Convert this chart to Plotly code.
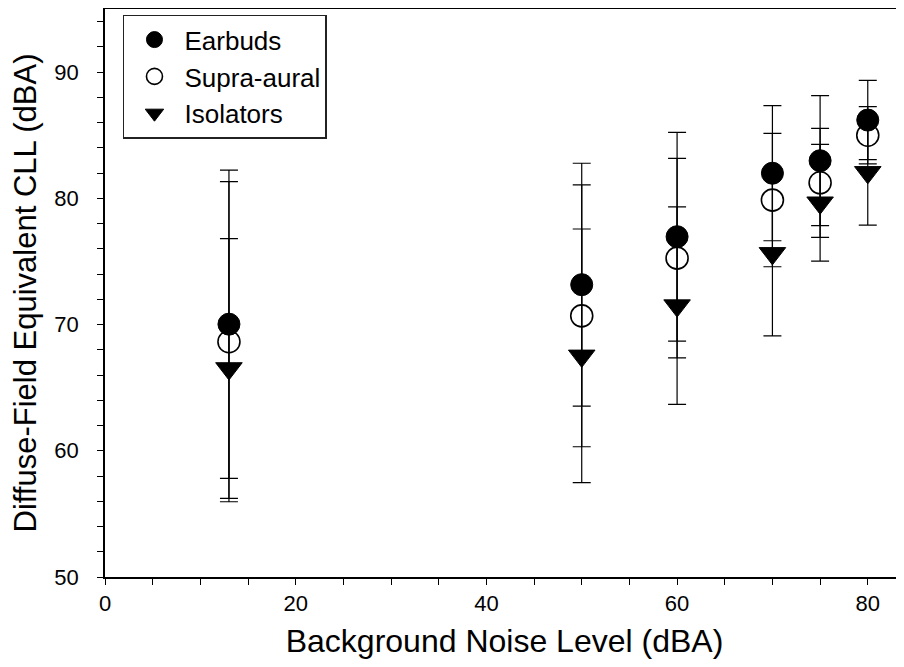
import plotly.graph_objects as go

noise_level = [13, 50, 60, 70, 75, 80]

earbuds_mean = [70.03, 73.16, 76.96, 81.99, 82.98, 86.2]
earbuds_sd = [12.21, 9.62, 8.27, 5.35, 5.15, 3.14]

supra_mean = [68.64, 70.69, 75.26, 79.86, 81.23, 85.0]
supra_sd = [12.68, 10.37, 7.9, 5.28, 4.32, 2.27]

isolators_mean = [66.52, 67.52, 71.5, 75.64, 79.65, 82.06]
isolators_sd = [10.29, 10.05, 7.83, 6.54, 4.62, 4.18]

series_names = ["Earbuds", "Supra-aural", "Isolators"]

FONT = "Liberation Sans, Arial, sans-serif"

err_style = dict(type="data", visible=True, color="black", thickness=1.2, width=9)

fig = go.Figure()
fig.add_trace(go.Scatter(
    x=noise_level, y=earbuds_mean, mode="markers", name=series_names[0],
    error_y=dict(array=earbuds_sd, **err_style),
    marker=dict(symbol="circle", size=22, color="black", line=dict(color="black", width=1)),
))
fig.add_trace(go.Scatter(
    x=noise_level, y=supra_mean, mode="markers", name=series_names[1],
    error_y=dict(array=supra_sd, **err_style),
    marker=dict(symbol="circle-open", size=22, color="black", line=dict(color="black", width=1.6)),
))
fig.add_trace(go.Scatter(
    x=noise_level, y=isolators_mean, mode="markers", name=series_names[2],
    error_y=dict(array=isolators_sd, **err_style),
    marker=dict(symbol="triangle-down", size=23, color="black", line=dict(color="black", width=1)),
))

# The page body adds an 8px margin, so the figure is 896x651 to fill the 904x667 window.
fig.update_layout(
    width=896, height=651,
    margin=dict(l=97, r=0, t=1, b=82, autoexpand=False),
    paper_bgcolor="white", plot_bgcolor="white",
    font=dict(family=FONT, color="black", size=22),
    showlegend=True,
    legend=dict(
        x=0.0225, y=0.99, xanchor="left", yanchor="top",
        bgcolor="white", bordercolor="#222", borderwidth=1.5,
        font=dict(family=FONT, size=26, color="black"),
        itemwidth=50,
    ),
    xaxis=dict(
        range=[0, 83.8], tickvals=[0, 20, 40, 60, 80], automargin=False,
        showline=True, linecolor="black", linewidth=1.5, mirror=True,
        ticks="outside", ticklen=6, tickwidth=1.2, tickcolor="black",
        minor=dict(dtick=5, ticks="outside", ticklen=6, tickwidth=1.2, tickcolor="black"),
        showgrid=False, zeroline=False,
        tickfont=dict(family=FONT, size=22),
        title=dict(text="Background Noise Level (dBA)", font=dict(family=FONT, size=32), standoff=14),
    ),
    yaxis=dict(
        range=[50, 95], tickvals=[50, 60, 70, 80, 90], automargin=False,
        showline=True, linecolor="black", linewidth=1.5, mirror=False,
        ticks="outside", ticklen=6, tickwidth=1.2, tickcolor="black",
        minor=dict(dtick=2, ticks="outside", ticklen=6, tickwidth=1.2, tickcolor="black"),
        showgrid=False, zeroline=False, ticklabelstandoff=14,
        tickfont=dict(family=FONT, size=22),
        title=dict(text="Diffuse-Field Equivalent CLL (dBA)", font=dict(family=FONT, size=31), standoff=14),
    ),
)

fig.write_html("out.html")
